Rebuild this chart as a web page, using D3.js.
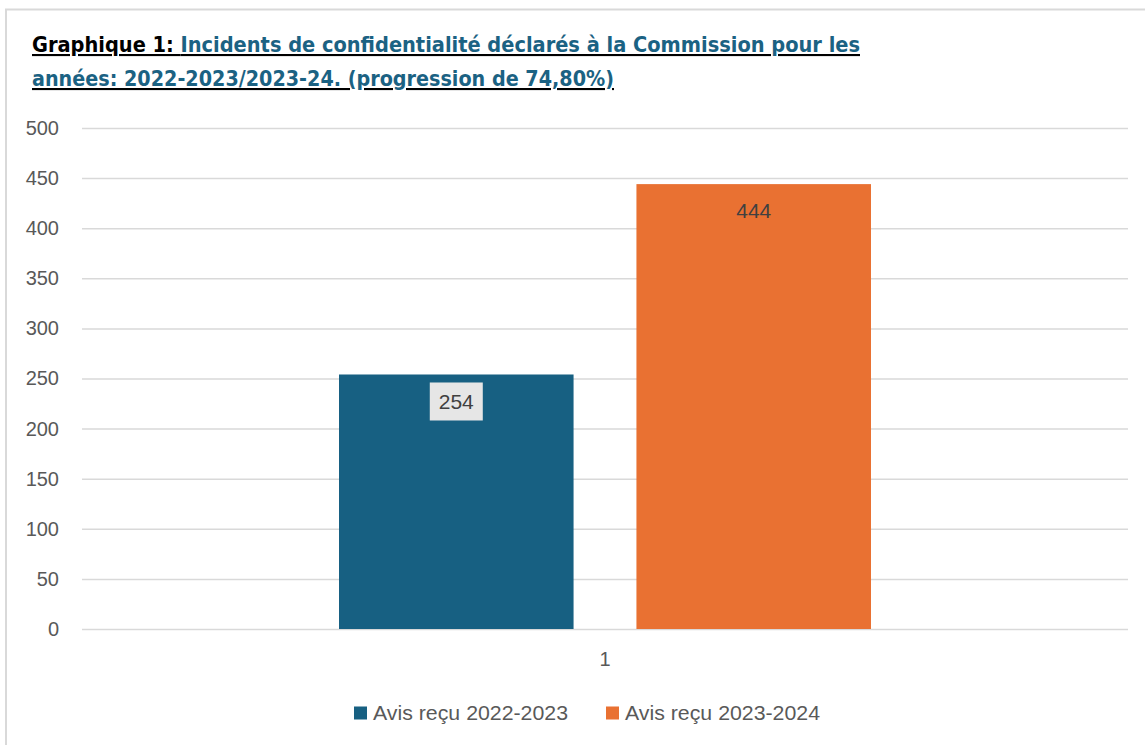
<!DOCTYPE html>
<html lang="fr">
<head>
  <meta charset="UTF-8">
  <title>Graphique 1</title>
  <script src="https://cdn.jsdelivr.net/npm/d3@7"></script>
  <style>
    body { margin: 0; background: #fff; }
  </style>
</head>
<body>
<svg></svg>
<script>
  const categories = ['1']
  const seriesNames = ['Avis reçu 2022-2023', 'Avis reçu 2023-2024']
  const seriesValues = [254, 444]
  const seriesColors = ['#176082', '#e97132']
  const yTicks = [0, 50, 100, 150, 200, 250, 300, 350, 400, 450, 500]

  const width = 1145, height = 745
  const margin = {top: 128, right: 17, bottom: 116, left: 82}
  const fontBody = '"Liberation Sans", Arial, sans-serif'

  const svg = d3.select('svg')
      .attr('width', width)
      .attr('height', height)
      .style('display', 'block')
      .style('font-family', fontBody)

  // cadre
  svg.append('rect')
      .attr('x', 6).attr('y', 9.5)
      .attr('width', width + 10).attr('height', height)
      .attr('fill', '#fff')
      .attr('stroke', '#d9d9d9')
      .attr('stroke-width', 2)

  const x = d3.scaleBand()
      .domain(categories)
      .range([margin.left, width - margin.right])

  const x1 = d3.scaleBand()
      .domain(seriesNames)
      .range([x.bandwidth() * 0.2457, x.bandwidth() * (1 - 0.2457)])
      .paddingInner(0.2114)

  const y = d3.scaleLinear()
      .domain([0, 500])
      .range([height - margin.bottom, margin.top])

  // grille
  svg.append('g')
      .selectAll('line')
      .data(yTicks)
      .join('line')
      .attr('x1', margin.left)
      .attr('x2', width - margin.right)
      .attr('y1', d => y(d) + 0.5)
      .attr('y2', d => y(d) + 0.5)
      .attr('stroke', '#d9d9d9')
      .attr('stroke-width', 1.5)

  // axe Y
  svg.append('g')
      .attr('transform', `translate(${margin.left - 23},0)`)
      .call(d3.axisLeft(y).tickValues(yTicks).tickSize(0).tickPadding(0))
      .call(g => g.select('.domain').remove())
      .call(g => g.selectAll('text')
          .attr('fill', '#595959')
          .attr('font-size', 20)
          .attr('font-family', fontBody))

  // axe X
  svg.append('g')
      .attr('transform', `translate(0,${height - margin.bottom + 1})`)
      .call(d3.axisBottom(x).tickSize(0).tickPadding(22))
      .call(g => g.select('.domain').remove())
      .call(g => g.selectAll('text')
          .attr('fill', '#595959')
          .attr('font-size', 20)
          .attr('font-family', fontBody))

  const bars = seriesNames.map((s, i) => ({cat: categories[0], name: s, value: seriesValues[i], color: seriesColors[i]}))

  svg.append('g')
      .selectAll('rect')
      .data(bars)
      .join('rect')
      .attr('x', d => x(d.cat) + x1(d.name))
      .attr('y', d => y(d.value))
      .attr('width', x1.bandwidth())
      .attr('height', d => y(0) - y(d.value))
      .attr('fill', d => d.color)

  // étiquettes
  const labels = svg.append('g')
      .selectAll('g')
      .data(bars)
      .join('g')
      .attr('transform', d => `translate(${x(d.cat) + x1(d.name) + x1.bandwidth() / 2},${y(d.value) + 27})`)

  labels.filter((d, i) => i === 0)
      .append('rect')
      .attr('x', -26.5).attr('y', -19)
      .attr('width', 53).attr('height', 38)
      .attr('fill', '#e6e6e6')

  labels.append('text')
      .attr('text-anchor', 'middle')
      .attr('dy', '0.35em')
      .attr('font-size', 21)
      .attr('fill', '#404040')
      .text(d => d.value)

  // légende
  const legend = svg.append('g')
      .attr('transform', `translate(0,${height - 32})`)
  const legendX = [354, 606]
  const lg = legend.selectAll('g')
      .data(bars)
      .join('g')
      .attr('transform', (d, i) => `translate(${legendX[i]},0)`)
  lg.append('rect')
      .attr('x', 0).attr('y', -6.5)
      .attr('width', 13).attr('height', 13)
      .attr('fill', d => d.color)
  lg.append('text')
      .attr('x', 19)
      .attr('dy', '0.35em')
      .attr('font-size', 21)
      .attr('fill', '#595959')
      .attr('textLength', 195)
      .attr('lengthAdjust', 'spacingAndGlyphs')
      .text(d => d.name)

  // titre
  const title = svg.append('g')
      .style('font-family', '"DejaVu Sans Condensed", "Liberation Sans Narrow", sans-serif')
      .style('font-weight', 'bold')
      .style('font-size', '21px')
      .style('text-decoration', 'underline')

  const t1 = title.append('text').attr('x', 32).attr('y', 52)
  t1.append('tspan').attr('fill', '#000').text('Graphique 1: ')
  t1.append('tspan').attr('fill', '#1b6283').text('Incidents de confidentialité déclarés à la Commission pour les')
  title.append('text').attr('x', 32).attr('y', 86)
      .attr('fill', '#1b6283')
      .text('années: 2022-2023/2023-24. (progression de 74,80%)')

  // ajuster la largeur du titre
  const target = [828, 582]
  title.selectAll('text').each(function (d, i) {
    const w = this.getComputedTextLength()
    if (Math.abs(w - target[i]) > 4) {
      d3.select(this).attr('textLength', target[i]).attr('lengthAdjust', 'spacingAndGlyphs')
    }
  })
</script>
</body>
</html>
